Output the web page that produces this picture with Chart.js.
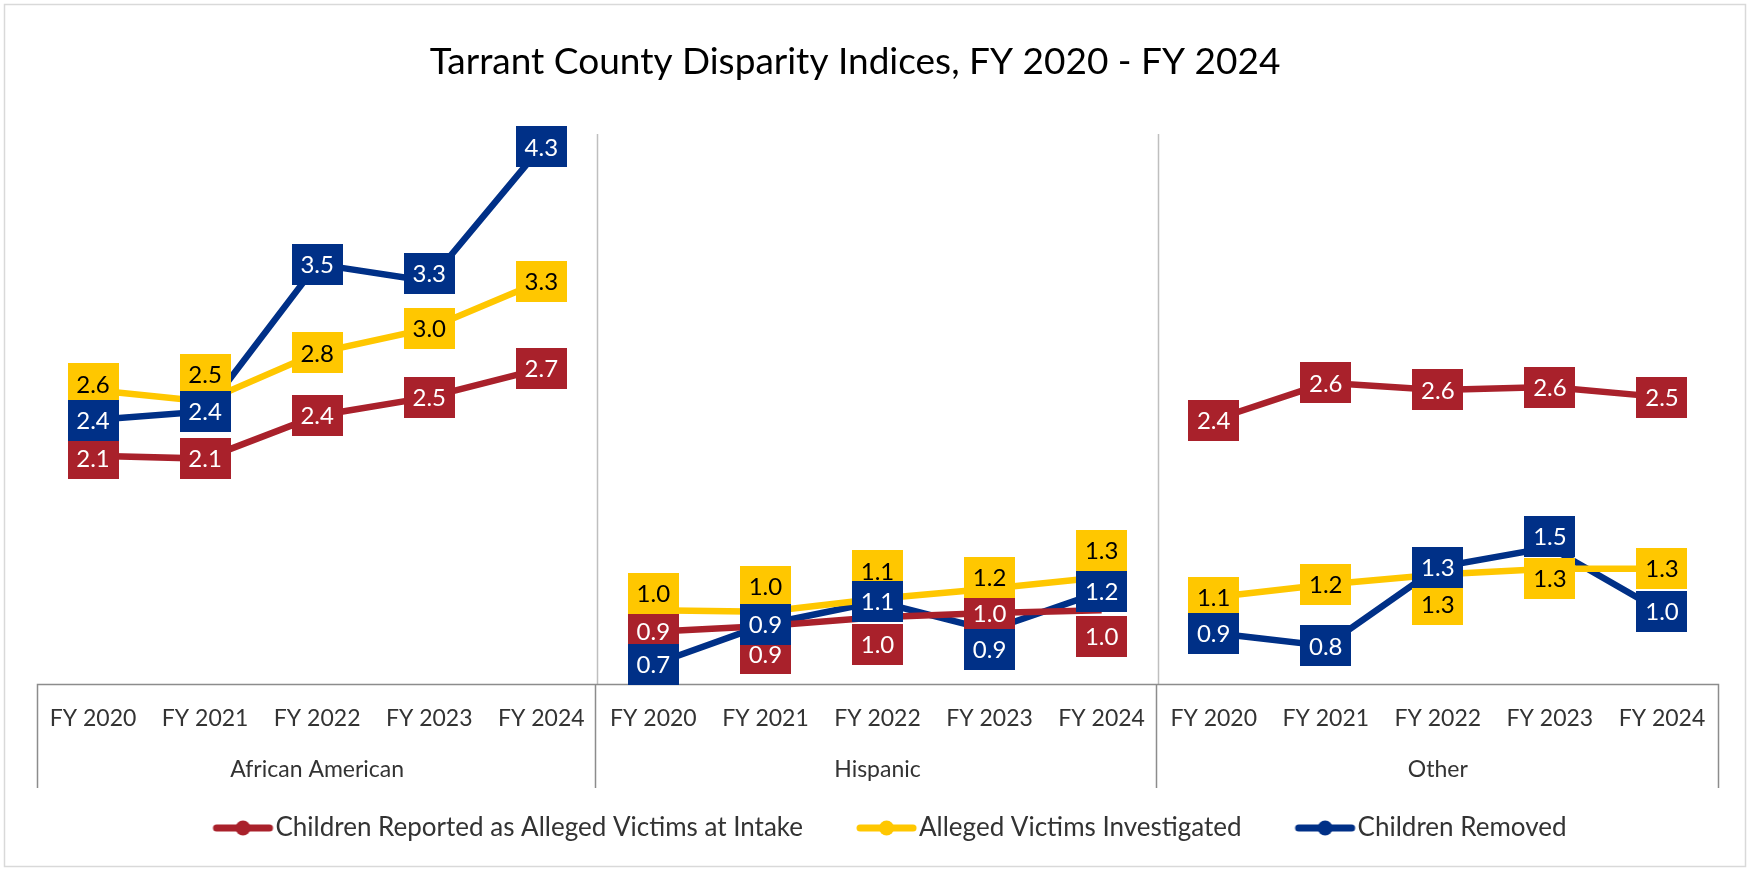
<!DOCTYPE html>
<html>
<head>
<meta charset="utf-8">
<script src="https://cdn.jsdelivr.net/npm/chart.js@4.4.1/dist/chart.umd.min.js"></script>
<style>
html,body{margin:0;padding:0;background:#fff;}
#wrap{width:1749px;height:869px;position:relative;}
</style>
</head>
<body>
<div id="wrap"><canvas id="c" width="1749" height="869"></canvas></div>
<script>
// ---------- data ----------
const years = ['FY 2020', 'FY 2021', 'FY 2022', 'FY 2023', 'FY 2024'];
const groups = ['African American', 'Hispanic', 'Other'];
const seriesNames = ['Children Reported as Alleged Victims at Intake', 'Alleged Victims Investigated', 'Children Removed'];
const titleText = 'Tarrant County Disparity Indices, FY 2020 - FY 2024';

const reportedAA    = [2.12, 2.10, 2.40, 2.53, 2.73];
const reportedHisp  = [0.89, 0.93, 0.99, 1.02, 1.04];
const reportedOther = [2.37, 2.63, 2.58, 2.60, 2.53];

const investigatedAA    = [2.58, 2.50, 2.84, 3.01, 3.34];
const investigatedHisp  = [1.04, 1.03, 1.12, 1.19, 1.27];
const investigatedOther = [1.13, 1.22, 1.29, 1.33, 1.33];

const removedAA    = [2.37, 2.43, 3.46, 3.34, 4.28];
const removedHisp  = [0.66, 0.94, 1.10, 0.90, 1.17];
const removedOther = [0.88, 0.79, 1.34, 1.48, 1.03];

// ---------- styles ----------
const FONT = 'Lato, "Open Sans", sans-serif';
const colors = ['#A9212B', '#FFC700', '#003087'];
const labelTextColors = ['#FFFFFF', '#000000', '#FFFFFF'];
// vertical nudges of data labels (px), as placed in the original
const labelNudge = [
  [3, 0, 0, 0, 0,   0, 28, 27, 0, 26,   0, 0, 0, 0, 0],
  [-6, -27, 0, 0, 0,   -17, -25, -28, -11, -27,   0, 0, 30, 10, 0],
  [0, 0, 0, -8, 0,   0, 0, 0, 19, 0,   0, 0, 0, -11, 0]
];

const xLabels = [];
groups.forEach(() => years.forEach(y => xLabels.push(y)));

const seriesData = [
  reportedAA.concat(reportedHisp, reportedOther),
  investigatedAA.concat(investigatedHisp, investigatedOther),
  removedAA.concat(removedHisp, removedOther)
];

// legend icon: line with a dot
const LEG_FS = 26, LEG_PAD = 29, LEG_BOXW = 74, LEG_LINE = 63;
function legendIcon(color) {
  const W = LEG_BOXW + LEG_FS, H = 20;
  const c = document.createElement('canvas');
  c.width = W; c.height = H;
  const g = c.getContext('2d');
  g.strokeStyle = color; g.lineWidth = 7; g.lineCap = 'round';
  g.beginPath(); g.moveTo(W - LEG_LINE + 4, H / 2); g.lineTo(W - 6, H / 2); g.stroke();
  g.fillStyle = color;
  g.beginPath(); g.arc(W - LEG_LINE / 2 - 1, H / 2, 7.5, 0, Math.PI * 2); g.fill();
  return c;
}

const datasets = seriesData.map((d, i) => ({
  label: seriesNames[i],
  data: d,
  borderColor: colors[i],
  backgroundColor: colors[i],
  borderWidth: 6.5,
  pointRadius: 0,
  pointHoverRadius: 0,
  pointStyle: legendIcon(colors[i]),
  tension: 0,
  segment: {
    borderColor: ctx => (ctx.p0DataIndex % years.length === years.length - 1) ? 'rgba(0,0,0,0)' : undefined
  }
}));

// data labels plugin
const dataLabels = {
  id: 'dataLabels',
  afterDatasetsDraw(chart) {
    const ctx = chart.ctx;
    ctx.save();
    ctx.font = '24px ' + FONT;
    ctx.textAlign = 'center';
    ctx.textBaseline = 'middle';
    chart.data.datasets.forEach((ds, di) => {
      const meta = chart.getDatasetMeta(di);
      meta.data.forEach((pt, i) => {
        const v = ds.data[i];
        if (v == null) return;
        const w = 51, h = 41;
        const cx = pt.x, cy = pt.y + labelNudge[di][i];
        ctx.fillStyle = colors[di];
        ctx.fillRect(Math.round(cx - w / 2), Math.round(cy - h / 2), w, h);
        ctx.fillStyle = labelTextColors[di];
        ctx.fillText(v.toFixed(1), cx, cy + 1);
      });
    });
    ctx.restore();
  }
};

// title, frame and group separators
const frame = {
  id: 'frame',
  beforeDraw(chart) {
    const ctx = chart.ctx;
    ctx.save();
    ctx.fillStyle = '#fff';
    ctx.fillRect(0, 0, chart.width, chart.height);
    ctx.strokeStyle = '#D9D9D9';
    ctx.lineWidth = 1.5;
    ctx.strokeRect(4.5, 4.5, chart.width - 8, chart.height - 7);
    ctx.fillStyle = '#000';
    ctx.font = '37px ' + FONT;
    ctx.textAlign = 'center';
    ctx.textBaseline = 'middle';
    ctx.fillText(titleText, 855, 62);
    ctx.restore();
  },
  beforeDatasetsDraw(chart) {
    const ctx = chart.ctx;
    const x = chart.scales.x, x2 = chart.scales.x2;
    const area = chart.chartArea;
    const half = (x.getPixelForValue(1) - x.getPixelForValue(0)) / 2;
    const left = x.getPixelForValue(0) - half;
    const right = x.getPixelForValue(xLabels.length - 1) + half;
    const bottom = x2.bottom + 2;
    ctx.save();
    ctx.strokeStyle = '#BFBFBF';
    ctx.lineWidth = 1.5;
    for (let g = 1; g < groups.length; g++) {
      const px = Math.round(x.getPixelForValue(g * years.length) - half) + 0.5;
      ctx.beginPath(); ctx.moveTo(px, area.top); ctx.lineTo(px, area.bottom); ctx.stroke();
    }
    ctx.strokeStyle = '#8C8C8C';
    ctx.lineWidth = 1.5;
    ctx.beginPath();
    ctx.moveTo(Math.round(left) + 0.5, bottom);
    ctx.lineTo(Math.round(left) + 0.5, area.bottom + 0.5);
    ctx.lineTo(Math.round(right) + 0.5, area.bottom + 0.5);
    ctx.lineTo(Math.round(right) + 0.5, bottom);
    for (let g = 1; g < groups.length; g++) {
      const px = Math.round(x.getPixelForValue(g * years.length) - half) - 1.5;
      ctx.moveTo(px, area.bottom); ctx.lineTo(px, bottom);
    }
    ctx.stroke();
    ctx.restore();
  }
};

new Chart(document.getElementById('c'), {
  type: 'line',
  data: { labels: xLabels, datasets },
  plugins: [frame, dataLabels],
  options: {
    responsive: false,
    animation: false,
    events: [],
    layout: { padding: { left: 37, right: 31, top: 134, bottom: 18 } },
    scales: {
      x: {
        type: 'category',
        offset: true,
        grid: { display: false, drawTicks: false },
        border: { display: false },
        ticks: { font: { family: FONT, size: 23 }, color: '#333', padding: 21.2, maxRotation: 0, autoSkip: false }
      },
      x2: {
        type: 'category',
        labels: groups,
        position: 'bottom',
        offset: true,
        grid: { display: false, drawTicks: false },
        border: { display: false },
        ticks: { font: { family: FONT, size: 23 }, color: '#333', padding: 2.2, maxRotation: 0, autoSkip: false }
      },
      y: { display: false, min: 0.524, max: 4.37 }
    },
    plugins: {
      title: { display: false },
      legend: {
        position: 'bottom',
        labels: {
          usePointStyle: true,
          pointStyleWidth: LEG_BOXW,
          padding: LEG_PAD,
          color: '#333',
          font: { family: FONT, size: LEG_FS }
        }
      },
      tooltip: { enabled: false }
    }
  }
});
</script>
</body>
</html>
